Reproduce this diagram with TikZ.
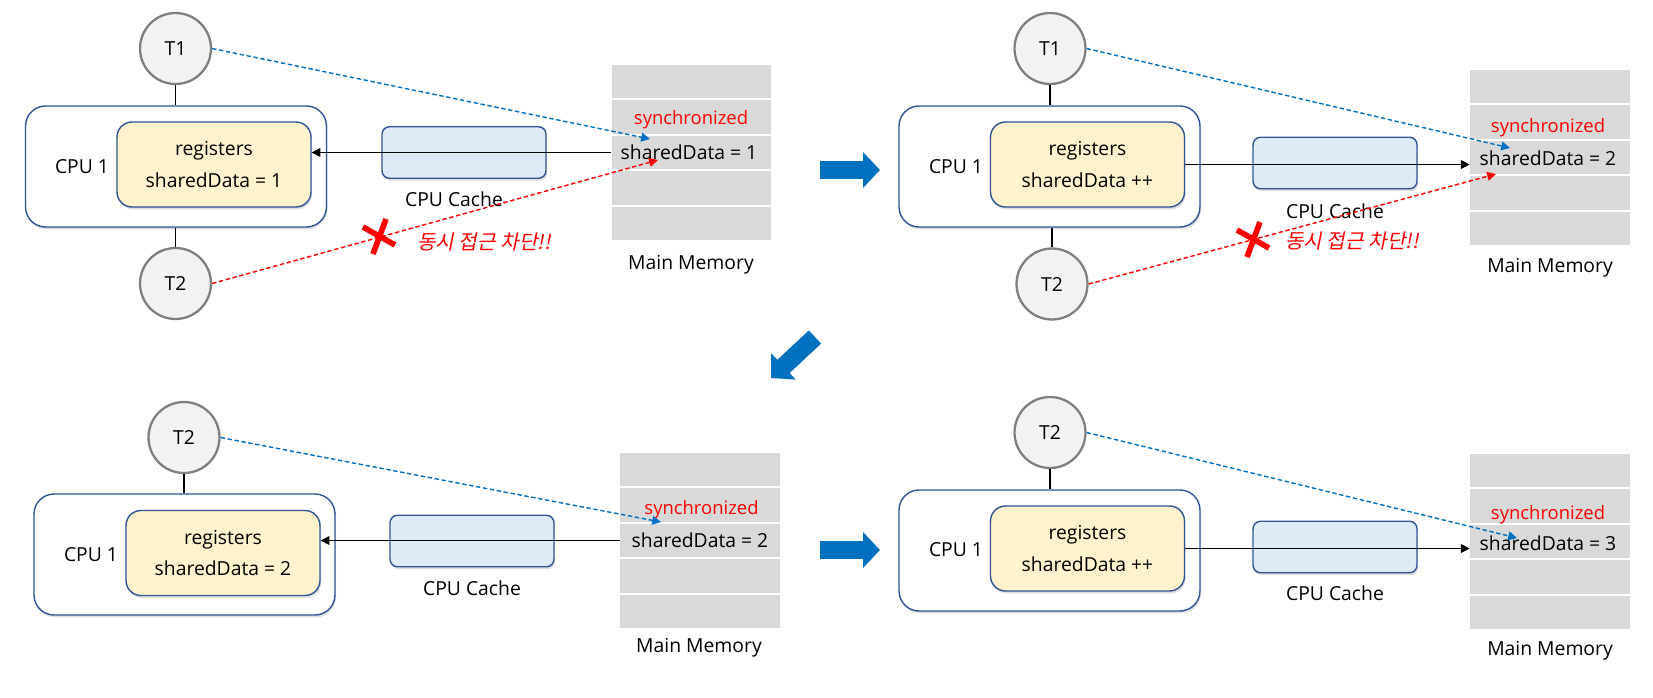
\documentclass[tikz,border=0pt]{standalone}
\usepackage{fontspec}
\setmainfont{Open Sans}
\newfontfamily\kofont[FakeSlant=0.2]{Noto Sans CJK KR}
\usetikzlibrary{arrows.meta,shadows}
\definecolor{cpublue}{HTML}{2F5597}
\definecolor{regfill}{HTML}{FFF2CC}
\definecolor{cachefill}{HTML}{DEEBF7}
\definecolor{memgray}{HTML}{D9D9D9}
\definecolor{threadgray}{HTML}{7F7F7F}
\definecolor{threadfill}{HTML}{F2F2F2}
\definecolor{flowblue}{HTML}{0070C0}
\definecolor{lockred}{HTML}{FF0000}

\begin{document}
\begin{tikzpicture}[
    x=0.02cm, y=-0.02cm,
    thread/.style={circle, draw=threadgray, line width=1.3pt, fill=threadfill, minimum size=1.42cm, inner sep=0pt, font=\fontsize{11}{13}\selectfont},
    cpu/.style={draw=cpublue, line width=0.8pt, fill=white, rounded corners=0.4cm, minimum width=6.02cm, minimum height=2.42cm, drop shadow={shadow xshift=0.6pt, shadow yshift=-1.4pt, opacity=0.25}},
    regs/.style={draw=cpublue, line width=0.8pt, fill=regfill, rounded corners=0.3cm, minimum width=3.88cm, minimum height=1.7cm, align=center, font=\fontsize{11}{18}\selectfont, drop shadow={shadow xshift=0.6pt, shadow yshift=-1.4pt, opacity=0.25}},
    cache/.style={draw=cpublue, line width=0.8pt, fill=cachefill, rounded corners=0.15cm, minimum width=3.28cm, minimum height=1.03cm, drop shadow={shadow xshift=0.6pt, shadow yshift=-1.4pt, opacity=0.25}},
    memcell/.style={fill=memgray, minimum width=3.2cm, minimum height=0.67cm, inner sep=0pt},
    lbl/.style={font=\fontsize{11}{13}\selectfont},
    synctxt/.style={text=lockred, font=\fontsize{10.5}{12}\selectfont},
    blocktxt/.style={text=lockred, font=\kofont\fontsize{11.5}{13}\selectfont},
    wire/.style={line width=0.6pt},
    access/.style={-{Triangle[length=5pt,width=5pt]}, line width=0.7pt},
    bluedash/.style={draw=flowblue, dash pattern=on 2.5pt off 1.5pt, line width=0.8pt, -{Triangle[length=5pt,width=5pt]}},
    reddash/.style={draw=lockred, dash pattern=on 2.5pt off 1.5pt, line width=0.8pt, -{Triangle[length=5pt,width=5pt]}},
    xmark/.style={draw=lockred, line width=3.2pt},
    bigarrow/.style={draw=flowblue, line width=0.36cm, -{Triangle[length=0.34cm,width=0.7cm]}}
]
\useasboundingbox (0,0) rectangle (1653,697);

% ---- Step 1: T1 reads, T2 blocked
\node[cpu] (cpua) at (176,166.5) {};
\node[regs] (regsa) at (214,164.5) {registers\\sharedData = 1};
\node[lbl] (cpuna) at (82,167) {CPU 1};
\node[thread] (t1a) at (175.5,48.5) {T1};
\node[thread] (t2a) at (175.5,283.5) {T2};
\node[cache] (cachea) at (464,152.5) {};
\node[lbl] (cachena) at (454,199) {CPU Cache};
\foreach \i in {1,...,5}
    \node[memcell] (mema\i) at (691.5,{81.7+(\i-1)*35.4}) {};
\node[synctxt] (synca) at (691,120) {synchronized};
\node[lbl] (vala) at (689,152.5) {sharedData = 1};
\node[lbl] (memna) at (691,265) {Main Memory};
\coordinate (hita) at (650,139);
\coordinate (misa) at (658,160);
\draw[wire] (t1a.south) -- (t1a |- cpua.north);
\draw[wire] (cpua.south -| t2a) -- (t2a.north);
\draw[access] (mema3.west) -- (mema3.west -| regsa.east);
\draw[bluedash] (t1a.east) -- (hita);
\draw[reddash] (t2a.east) -- (misa);
\draw[xmark] (363,227) -- (395,245) (386,219) -- (373,254);
\node[blocktxt] (blocka) at (484,242) {동시 접근 차단!!};

% ---- Step 2: T1 writes back
\node[cpu] (cpub) at (1049.5,166.5) {};
\node[regs] (regsb) at (1087.5,164.5) {registers\\sharedData ++};
\node[lbl] (cpunb) at (956,167) {CPU 1};
\node[thread] (t1b) at (1050,48.5) {T1};
\node[thread] (t2b) at (1052,284) {T2};
\node[cache] (cacheb) at (1335,163) {};
\node[lbl] (cachenb) at (1335,211) {CPU Cache};
\foreach \i in {1,...,5}
    \node[memcell] (memb\i) at (1550,{86.7+(\i-1)*35.4}) {};
\node[synctxt] (syncb) at (1548,128) {synchronized};
\node[lbl] (valb) at (1548,158) {sharedData = 2};
\node[lbl] (memnb) at (1550,268) {Main Memory};
\coordinate (hitb) at (1510,148);
\coordinate (misb) at (1496,174);
\draw[wire] (t1b.south) -- (t1b |- cpub.north);
\draw[wire] (cpub.south -| t2b) -- (t2b.north);
\draw[access] (regsb.east) -- (regsb.east -| memb3.west);
\draw[bluedash] (t1b.east) -- (hitb);
\draw[reddash] (t2b.east) -- (misb);
\draw[xmark] (1237,230) -- (1269,248) (1260,222) -- (1247,257);
\node[blocktxt] (blockb) at (1352,241) {동시 접근 차단!!};

% ---- Step 3: T2 reads
\node[cpu] (cpuc) at (184.5,554.5) {};
\node[regs] (regsc) at (223,553) {registers\\sharedData = 2};
\node[lbl] (cpunc) at (91,555) {CPU 1};
\node[thread] (t2c) at (184,437.5) {T2};
\node[cache] (cachec) at (472,541) {};
\node[lbl] (cachenc) at (472,588) {CPU Cache};
\foreach \i in {1,...,5}
    \node[memcell] (memc\i) at (700,{469.7+(\i-1)*35.4}) {};
\node[synctxt] (syncc) at (701.5,510) {synchronized};
\node[lbl] (valc) at (700,540.5) {sharedData = 2};
\node[lbl] (memnc) at (699,648) {Main Memory};
\coordinate (hitc) at (661,522);
\draw[wire] (t2c.south) -- (t2c |- cpuc.north);
\draw[access] (memc3.west) -- (memc3.west -| regsc.east);
\draw[bluedash] (t2c.east) -- (hitc);

% ---- Step 4: T2 writes back
\node[cpu] (cpud) at (1049.5,550.5) {};
\node[regs] (regsd) at (1087.5,548.5) {registers\\sharedData ++};
\node[lbl] (cpund) at (956,550) {CPU 1};
\node[thread] (t2d) at (1050,432.5) {T2};
\node[cache] (cached) at (1335,547) {};
\node[lbl] (cachend) at (1335,593) {CPU Cache};
\foreach \i in {1,...,5}
    \node[memcell] (memd\i) at (1550,{470.7+(\i-1)*35.4}) {};
\node[synctxt] (syncd) at (1548,515) {synchronized};
\node[lbl] (vald) at (1548,543) {sharedData = 3};
\node[lbl] (memnd) at (1550,651) {Main Memory};
\coordinate (hitd) at (1517,538);
\draw[wire] (t2d.south) -- (t2d |- cpud.north);
\draw[access] (regsd.east) -- (regsd.east -| memd3.west);
\draw[bluedash] (t2d.east) -- (hitd);

% ---- Step arrows
\coordinate (stepab) at (820,170);
\coordinate (stepbe) at (880,170);
\coordinate (stepbc) at (815,337);
\coordinate (stepce) at (771,378);
\coordinate (stepcd) at (820,550);
\coordinate (stepde) at (880,550);
\draw[bigarrow] (stepab) -- (stepbe);
\draw[bigarrow] (stepbc) -- (stepce);
\draw[bigarrow] (stepcd) -- (stepde);
\end{tikzpicture}
\end{document}
